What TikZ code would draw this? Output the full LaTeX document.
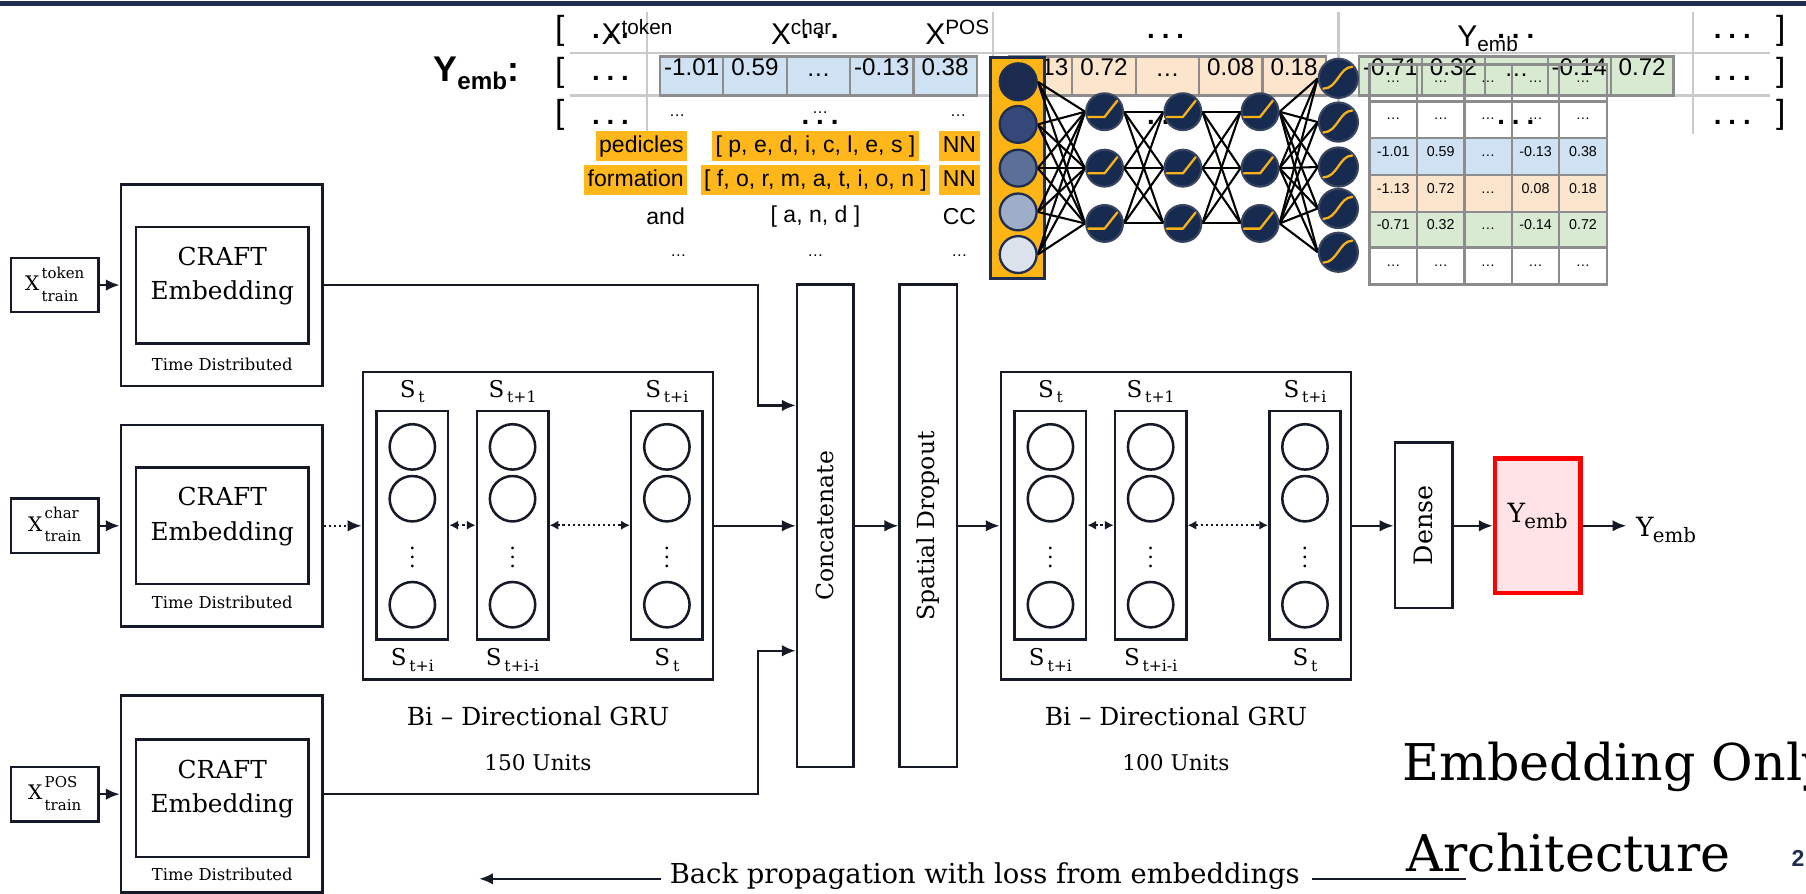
\documentclass[tikz,border=0pt]{standalone}
\usepackage{fontspec}
\setmainfont{DejaVu Serif}
\newfontfamily\tabsans{Liberation Sans}
\usetikzlibrary{arrows.meta,fit,calc}
\pgfdeclarelayer{tab}
\pgfdeclarelayer{wires}
\pgfsetlayers{tab,wires,main}

\definecolor{ink}{HTML}{151A26}
\definecolor{navy}{HTML}{1F2D4F}
\definecolor{gold}{HTML}{FDB515}
\definecolor{hilite}{HTML}{FFB71B}
\definecolor{gridgray}{HTML}{CACACA}
\definecolor{cellgray}{HTML}{8C8C8C}
\definecolor{cblue}{HTML}{CFE2F3}
\definecolor{corange}{HTML}{FCE5CD}
\definecolor{cgreen}{HTML}{D9EAD3}
\definecolor{neuron}{HTML}{172A50}
\definecolor{neuronrim}{HTML}{39445F}
\definecolor{actcurve}{HTML}{F7B21A}
\definecolor{pinkfill}{HTML}{FFE3E6}
\definecolor{inA}{HTML}{1B2B50}
\definecolor{inB}{HTML}{34497A}
\definecolor{inC}{HTML}{5B6F98}
\definecolor{inD}{HTML}{9EADC8}
\definecolor{inE}{HTML}{DCE2EC}

\newcommand\fsz[1]{\fontsize{#1}{#1}\selectfont}
\newcommand\dts{{\bfseries.\kern3pt.\kern3pt.}}
\newcommand\Xin[1]{{\fsz{8.7}X}\kern1pt$\vcenter{\hbox{\fontsize{6.5}{10}\selectfont\begin{tabular}{@{}l@{}}#1\\train\end{tabular}}}$}
\newcommand\Sl[1]{{\fsz{10}S}\kern1.2pt\raisebox{-2.4pt}{\fsz{6.8}#1}}
\newcommand\Yemb{{\fsz{11.5}Y}\kern-0.3pt\raisebox{-2.8pt}{\fsz{8.6}emb}}
% one row of value cells: name, x0, cell width, y1, y2, fill, font size, values
\newcommand\cellrow[8]{%
  \foreach \cv [count=\ci] in {#8}{%
    \node[cell, fill=#6, font=\tabsans\fsz{#7},
      fit={({#2+(\ci-1)*#3},#4) ({#2+\ci*#3},#5)}] (#1\ci) {\cv};}}

\begin{document}
\begin{tikzpicture}[x=0.5pt,y=-0.5pt, >={Latex[length=6pt,width=5pt]},
  txt/.style={inner sep=0pt},
  box/.style={draw=ink, line width=1.1pt, inner sep=0pt},
  colbox/.style={draw=ink, line width=1.1pt, inner sep=0pt},
  unit/.style={circle, draw=ink, line width=1.1pt, minimum size=19.7pt, inner sep=0pt},
  arr/.style={draw=ink, line width=1pt, ->},
  dotarr/.style={draw=ink, line width=1pt, ->, dash pattern=on 1pt off 1.2pt},
  dotboth/.style={draw=ink, line width=1pt, {Latex[length=3.8pt,width=4pt]}-{Latex[length=3.8pt,width=4pt]}, dash pattern=on 1pt off 1.2pt},
  plain/.style={draw=ink, line width=1pt},
  gridline/.style={draw=gridgray, line width=1pt},
  cell/.style={draw=cellgray, line width=1pt, inner sep=0pt},
  hl/.style={fill=hilite, inner xsep=1.5pt, inner ysep=1pt, text height=8pt, text depth=3pt, font=\tabsans\fsz{10}},
  rowtxt/.style={inner sep=0pt, font=\tabsans\fsz{10}},
  dotstxt/.style={inner sep=0pt, anchor=base, font=\tabsans\fsz{12}},
  innode/.style={circle, draw=navy, line width=1pt, minimum size=16pt, inner sep=0pt},
  neur/.style={circle, fill=neuron, draw=neuronrim, line width=0.9pt, minimum size=#1, inner sep=0pt},
  wire/.style={draw=black, line width=0.9pt},
  act/.style={draw=actcurve, line width=1pt, line cap=round, line join=round},
]
\useasboundingbox (0,0) rectangle (1568,776);
\fill[navy] (0,1) rectangle (1568,5);

% ---------- embedding table (background layer) ----------
\begin{pgfonlayer}{tab}
  \draw[gridline] (495,46) -- (1537,46);
  \draw[gridline] (495,83) -- (1537,83);
  \foreach \gx in {562,862,1162,1470} \draw[gridline] (\gx,10) -- (\gx,116);
  \cellrow{blu}{573}{55}{49}{83}{cblue}{10.5}{-1.01,0.59,…,-0.13,0.38}
  \cellrow{org}{876}{55}{49}{83}{corange}{10.5}{-1.13,0.72,…,0.08,0.18}
  \cellrow{grn}{1180}{54.6}{49}{83}{cgreen}{10.5}{-0.71,0.32,…,-0.14,0.72}
  \cellrow{ma}{1189}{41.2}{56}{88}{none}{6.2}{…,…,…,…,…}
  \cellrow{mb}{1189}{41.2}{88}{120}{white}{6.2}{…,…,…,…,…}
  \cellrow{mc}{1189}{41.2}{120}{152}{cblue}{6.2}{-1.01,0.59,…,-0.13,0.38}
  \cellrow{md}{1189}{41.2}{152}{184}{corange}{6.2}{-1.13,0.72,…,0.08,0.18}
  \cellrow{me}{1189}{41.2}{184}{215}{cgreen}{6.2}{-0.71,0.32,…,-0.14,0.72}
  \cellrow{mf}{1189}{41.2}{215}{247}{white}{6.2}{…,…,…,…,…}
  \node[dotstxt] (r3c3) at (1012,108) {\dts};
  \node[draw=navy, line width=1.2pt, fill=gold, inner sep=0pt, fit={(860,50) (907,242)}] (inrect) {};
\end{pgfonlayer}

% brackets and row ellipses
\foreach \ry [count=\k] in {27,63,100}{
  \node[txt, font=\tabsans\fsz{14.5}] (lb\k) at (486,\ry) {[};
  \node[txt, font=\tabsans\fsz{14.5}] (rb\k) at (1546,\ry) {]};
}
\foreach \ry [count=\k] in {33,70,108}{
  \node[dotstxt] (r\k c1) at (530,\ry) {\dts};
  \node[dotstxt] (r\k c5) at (1504,\ry) {\dts};
}
\node[dotstxt] (r1c2) at (712,33) {\dts};
\node[dotstxt] (r1c3) at (1012,33) {\dts};
\node[dotstxt] (r1c4) at (1316,33) {\dts};
\node[dotstxt] (r3c2) at (712,108) {\dts};
\node[dotstxt] (r3c4) at (1316,108) {\dts};
\node[txt, font=\tabsans\fsz{7}] (s3a) at (588,100) {…};
\node[txt, font=\tabsans\fsz{7}] (s3b) at (712,98) {…};
\node[txt, font=\tabsans\fsz{7}] (s3c) at (832,100) {…};

% column headers
\node[txt, anchor=base west, font=\tabsans\bfseries] (ylab) at (376,71)
  {{\fsz{15.5}Y}\raisebox{-3.5pt}{\fsz{10.5}emb}{\fsz{15.5}:}};
\node[txt, anchor=base west, font=\tabsans] (hxtok) at (522,39) {{\fsz{13}X}\raisebox{4.5pt}{\fsz{9}token}};
\node[txt, anchor=base west, font=\tabsans] (hxchr) at (669,39) {{\fsz{13}X}\raisebox{4.5pt}{\fsz{9}char}};
\node[txt, anchor=base west, font=\tabsans] (hxpos) at (803,39) {{\fsz{13}X}\raisebox{4.5pt}{\fsz{9}POS}};
\node[txt, anchor=base west, font=\tabsans] (hyemb) at (1265,40) {{\fsz{13}Y}\raisebox{-2.5pt}{\fsz{9}emb}};

% sample tokens
\node[hl, anchor=east] (w1) at (597,127) {pedicles};
\node[hl, anchor=east] (w2) at (597,156.5) {formation};
\node[rowtxt, anchor=east] (w3) at (595,188) {and};
\node[txt, font=\tabsans\fsz{7}] (w4) at (589,222) {…};
\node[hl] (c1) at (708,127) {[ p, e, d, i, c, l, e, s ]};
\node[hl] (c2) at (708,156.5) {[ f, o, r, m, a, t, i, o, n ]};
\node[rowtxt] (c3) at (708,188) {[ a, n, d ]};
\node[txt, font=\tabsans\fsz{7}] (c4) at (708,222) {…};
\node[hl] (p1) at (833,127) {NN};
\node[hl] (p2) at (833,156.5) {NN};
\node[rowtxt] (p3) at (833,188) {CC};
\node[txt, font=\tabsans\fsz{7}] (p4) at (833,222) {…};

% ---------- dense network ----------
\foreach \yy/\cc [count=\k] in {71/inA,108/inB,146/inC,184/inD,221/inE}
  \node[innode, fill=\cc] (in\k) at (884,\yy) {};
\foreach \hx [count=\lay] in {959,1027,1094}
  \foreach \hy [count=\row] in {97,146,194}{
    \node[neur=16pt] (h\lay\row) at (\hx,\hy) {};
    \draw[act] ([shift={(-14,4.5)}]h\lay\row.center) -- ++(14,0) -- ++(11,-14);
  }
\foreach \oy [count=\k] in {68,106,145,181,219}{
  \node[neur=17pt] (out\k) at (1162,\oy) {};
  \draw[act] ([shift={(-13,9)}]out\k.center) .. controls ([shift={(-1,9)}]out\k.center)
     and ([shift={(1,-10)}]out\k.center) .. ([shift={(12,-10)}]out\k.center);
}
\begin{pgfonlayer}{wires}
  \foreach \pa in {1,...,5} \foreach \pb in {1,2,3} \draw[wire] (in\pa.east) -- (h1\pb.west);
  \foreach \pa in {1,2,3} \foreach \pb in {1,2,3}{
    \draw[wire] (h1\pa.east) -- (h2\pb.west);
    \draw[wire] (h2\pa.east) -- (h3\pb.west);}
  \foreach \pa in {1,2,3} \foreach \pb in {1,...,5} \draw[wire] (h3\pa.east) -- (out\pb.west);
\end{pgfonlayer}

% ---------- input branches ----------
\foreach \k/\lab/\ya/\yb/\ia/\ib/\ti in
   {1/token/160/335/197/298/316, 2/char/369/544/406/507/523, 3/POS/604/775/642/744/759}{
  \node[box, fit={(105,\ya) (280,\yb)}] (td\k) {};
  \node[box, fit={(118,\ia) (268,\ib)}, align=center, font=\fontsize{10.75}{15}\selectfont] (ce\k) {CRAFT\\Embedding};
  \node[txt, font=\fsz{7.1}] (tdl\k) at (193,\ti) {Time Distributed};
  \node[box, minimum width=38pt, minimum height=23.5pt] (xt\k) at (47.5,{(\ya+\yb)/2}) {\Xin{\lab}};
  \draw[arr] (xt\k.east) -- (td\k.west);
}

% ---------- recurrent blocks ----------
\foreach \g/\dx/\nun in {1/0/150,2/554/100}{
  \node[box, fit={({315+\dx},323) ({619+\dx},590)}] (gru\g) {};
  \foreach \c/\cx/\st/\sb in {a/327/t/t+i, b/414/t+1/t+i-i, c/548/t+i/t}{
    \node[colbox, fit={({\cx+\dx},357) ({\cx+62+\dx},555)}] (g\g\c) {};
    \foreach \cy [count=\m] in {388,433,525}
      \node[unit] (g\g\c\m) at ({\cx+31+\dx},\cy) {};
    \node[txt, font=\fsz{9}] (g\g\c v) at ({\cx+31+\dx},478) {$\vdots$};
    \node[txt] (g\g\c top) at ({\cx+31+\dx},340) {\Sl{\st}};
    \node[txt] (g\g\c bot) at ({\cx+31+\dx},573) {\Sl{\sb}};
  }
  \draw[dotboth] (g\g a.east) -- (g\g b.west);
  \draw[dotboth] (g\g b.east) -- (g\g c.west);
  \node[txt, font=\fsz{10.8}] (gl\g) at ({467+\dx},622) {Bi – Directional GRU};
  \node[txt, font=\fsz{9.4}] (gu\g) at ({467+\dx},662) {\nun\ Units};
}

% ---------- merge, dropout, output ----------
\node[box, fit={(692,247) (741,666)}] (cat) {};
\node[txt, rotate=90, font=\fsz{10.2}] (catl) at (cat.center) {Concatenate};
\node[box, fit={(781,247) (831,666)}] (spd) {};
\node[txt, rotate=90, font=\fsz{10.2}] (spdl) at (spd.center) {Spatial Dropout};
\node[box, fit={(1211,384) (1261,528)}] (dense) {};
\node[txt, rotate=90, font=\fsz{11}] (densel) at (dense.center) {Dense};
\node[draw=red, line width=2pt, fill=pinkfill, inner sep=0pt, fit={(1298,398) (1372,515)}] (yred) {\Yemb};
\coordinate (yend) at (1412,456.5);
\node[txt, anchor=west] (yout) at (1420,460) {\Yemb};

\draw[arr] (td1.east) -| (658,352) -- (cat.west |- 0,352);
\draw[arr] (td3.east) -| (658,565) -- (cat.west |- 0,565);
\draw[dotarr] (td2.east) -- (gru1.west);
\draw[arr] (gru1.east) -- (cat.west |- gru1.east);
\draw[arr] (cat.east |- gru1.east) -- (spd.west |- gru1.east);
\draw[arr] (spd.east |- gru1.east) -- (gru2.west);
\draw[arr] (gru2.east) -- (dense.west |- gru2.east);
\draw[arr] (dense.east |- gru2.east) -- (yred.west |- gru2.east);
\draw[arr] (yred.east |- gru2.east) -- (yend);

% ---------- captions ----------
\node[txt, anchor=base, font=\fsz{11.9}] (bp) at (855,767) {Back propagation with loss from embeddings};
\coordinate (bpL) at (416,763);
\coordinate (bpR) at (1273,763);
\draw[arr] ($(bp.west |- bpL)+(-7,0)$) -- (bpL);
\draw[plain] ($(bp.east |- bpR)+(10,0)$) -- (bpR);
\node[txt, anchor=base west, font=\fsz{22}] (t1) at (1217,678) {Embedding Only};
\node[txt, anchor=base west, font=\fsz{22}] (t2) at (1221,757) {Architecture};
\node[txt, anchor=base west, font=\tabsans\bfseries\fsz{10}, text=navy] (pg) at (1555,752) {2};
\end{tikzpicture}
\end{document}
